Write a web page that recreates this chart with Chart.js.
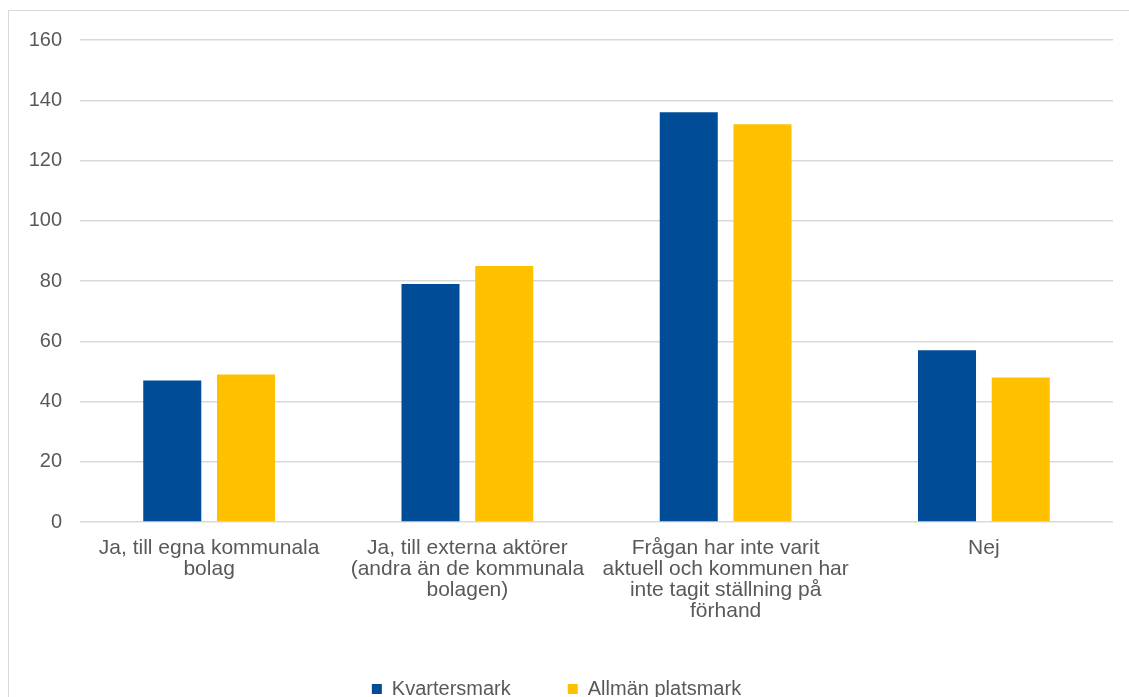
<!DOCTYPE html>
<html lang="sv">
<head>
<meta charset="utf-8">
<script src="https://cdn.jsdelivr.net/npm/chart.js@4"></script>
<style>
	html, body {
		margin: 0;
		padding: 0;
		background: #ffffff;
		overflow: hidden;
	}
	.ram {
		position: absolute;
		left: 8px;
		top: 10px;
		width: 1300px;
		height: 900px;
		border: 1.5px solid #d9d9d9;
	}
	.grafico {
		position: absolute;
		left: 0;
		top: 0;
		width: 1129px;
		height: 709px;
	}
</style>
</head>
<body>
<div class="ram"></div>
<div class="grafico"><canvas id="graficoBarra"></canvas></div>
<script>
const kategorier = [
	["Ja, till egna kommunala", "bolag"],
	["Ja, till externa aktörer", "(andra än de kommunala", "bolagen)"],
	["Frågan har inte varit", "aktuell och kommunen har", "inte tagit ställning på", "förhand"],
	["Nej"],
]
const kvartersmark = [47, 79, 136, 57]
const allmanPlatsmark = [49, 85, 132, 48]
const serieNamn = ["Kvartersmark", "Allmän platsmark"]
const yTicks = [0, 20, 40, 60, 80, 100, 120, 140, 160]

const BLA = "#004c97"
const GUL = "#ffc000"
const TEXT = "#595959"
const LINJE = "#d9d9d9"
const FONT = "'Liberation Sans', Arial, sans-serif"

Chart.defaults.font.family = FONT
Chart.defaults.color = TEXT

var config = {
	type: "bar",
	data: {
		labels: kategorier,
		datasets: [
			{
				label: serieNamn[0],
				data: kvartersmark,
				backgroundColor: BLA,
				categoryPercentage: 0.571,
				barPercentage: 0.787,
			},
			{
				label: serieNamn[1],
				data: allmanPlatsmark,
				backgroundColor: GUL,
				categoryPercentage: 0.571,
				barPercentage: 0.787,
			},
		],
	},
	options: {
		responsive: true,
		maintainAspectRatio: false,
		animation: false,
		layout: {
			padding: { left: 0, right: 16, top: 40, bottom: 0 },
		},
		plugins: {
			tooltip: { enabled: false },
			legend: {
				position: "bottom",
				labels: {
					boxWidth: 10,
					boxHeight: 10,
					padding: 57,
					color: TEXT,
					font: { size: 20 },
				},
			},
		},
		scales: {
			x: {
				grid: { display: false },
				border: { display: false },
				ticks: {
					maxRotation: 0,
					autoSkip: false,
					padding: 8,
					color: TEXT,
					font: { size: 21, lineHeight: 1.0 },
				},
				afterFit: (s) => {
					s.height = 100
				},
			},
			y: {
				min: 0,
				max: 160,
				afterBuildTicks: (s) => {
					s.ticks = yTicks.map((v) => ({ value: v }))
				},
				grid: { color: LINJE, lineWidth: 1.5, drawTicks: false },
				border: { display: false },
				ticks: {
					padding: 18,
					color: TEXT,
					font: { size: 20 },
				},
				afterFit: (s) => {
					s.width = 80
				},
			},
		},
	},
}

var graficoBarra = new Chart(document.getElementById("graficoBarra"), config)
</script>
</body>
</html>
